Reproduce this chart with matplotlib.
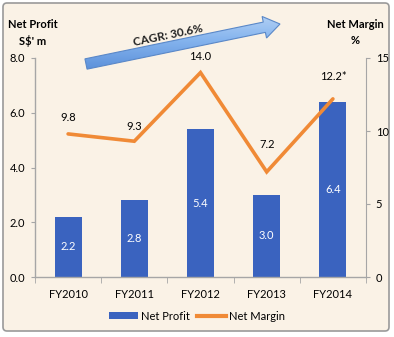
import numpy as np
import matplotlib
matplotlib.use("Agg")
import matplotlib.pyplot as plt
from matplotlib.patches import FancyBboxPatch, FancyArrow, Rectangle
from matplotlib.lines import Line2D

# ---- data ----
categories = ["FY2010", "FY2011", "FY2012", "FY2013", "FY2014"]
net_profit = [2.2, 2.8, 5.4, 3.0, 6.4]
net_margin = [9.8, 9.3, 14.0, 7.2, 12.2]
margin_labels = ["9.8", "9.3", "14.0", "7.2", "12.2*"]
left_ticks = [0.0, 2.0, 4.0, 6.0, 8.0]
right_ticks = [0, 5, 10, 15]
cagr_text = "CAGR: 30.6%"

# ---- style ----
FONT = ["Lato", "DejaVu Sans"]
plt.rcParams["font.family"] = FONT
BAR_C = "#3A63BF"
LINE_C = "#F08A36"
BG = "#FAF2E6"
GRID_C = "#A6A6A6"
FS = 8
label_offsets_px = [16, 15, 16, 27, 22]

W, H = 394, 337
fig = plt.figure(figsize=(W / 100, H / 100), dpi=100, facecolor="white")

# background overlay (pixel coords, y downward)
bg = fig.add_axes([0, 0, 1, 1], zorder=0)
bg.set_xlim(0, W)
bg.set_ylim(H, 0)
bg.axis("off")
bg.add_patch(FancyBboxPatch((3, 3), 386, 328, boxstyle="round,pad=0,rounding_size=4",
                            facecolor=BG, edgecolor="#9A9A9A", linewidth=1.2))

# gradient arrow
tail = np.array([86.0, 64.0])
tip = np.array([280.0, 24.0])
d = tip - tail
arrow = FancyArrow(tail[0], tail[1], d[0], d[1], width=10.5, head_width=22, head_length=16,
                   length_includes_head=True, facecolor="none", edgecolor="#5A88C8",
                   linewidth=0.8, zorder=3)
bg.add_patch(arrow)
grad = np.linspace(0, 1, 256).reshape(-1, 1)
cmap = matplotlib.colors.LinearSegmentedColormap.from_list("g", ["#BBD6F6", "#85B4EE", "#5B90DA"])
im = bg.imshow(grad, extent=(80, 300, 70, 10), cmap=cmap, aspect="auto", zorder=2)
im.set_clip_path(arrow)
bg.set_xlim(0, W)
bg.set_ylim(H, 0)
ang = np.degrees(np.arctan2(-d[1], d[0]))
bg.text(168, 35, cagr_text, rotation=ang, ha="center", va="center",
        fontsize=8.5, fontweight="bold", color="#222222", rotation_mode="anchor")

# axis titles
bg.text(33, 25, "Net Profit", ha="center", va="center", fontsize=FS, fontweight="bold")
bg.text(33, 41, "S$' m", ha="center", va="center", fontsize=FS, fontweight="bold")
bg.text(355, 25, "Net Margin", ha="center", va="center", fontsize=FS, fontweight="bold")
bg.text(355, 40, "%", ha="center", va="center", fontsize=FS, fontweight="bold")

# main axes
left, right, top, bottom = 35, 366, 58, 277
ax = fig.add_axes([left / W, (H - bottom) / H, (right - left) / W, (bottom - top) / H], zorder=1)
ax.patch.set_visible(False)
x = np.arange(len(categories))
ax.bar(x, net_profit, width=0.41, color=BAR_C, zorder=2)
ax.set_ylim(0, 8)
ax.set_xlim(-0.5, len(categories) - 0.5)
ax.set_yticks(left_ticks)
ax.set_yticklabels([f"{v:.1f}" for v in left_ticks])
ax.set_xticks(x)
ax.set_xticklabels(categories)
ax.set_xticks(np.arange(-0.5, len(categories), 1.0), minor=True)
ax.tick_params(axis="x", which="major", length=0, labelsize=FS, pad=9)
ax.tick_params(axis="x", which="minor", length=4, color=GRID_C, direction="out")
ax.tick_params(axis="y", length=3, color=GRID_C, labelsize=FS, pad=4)
for s in ["top", "right"]:
    ax.spines[s].set_visible(False)
for s in ["left", "bottom"]:
    ax.spines[s].set_color(GRID_C)
    ax.spines[s].set_linewidth(1.0)

for xi, v in zip(x, net_profit):
    ax.text(xi, v / 2, f"{v:.1f}", ha="center", va="center", color="white", fontsize=FS, zorder=3)

ax2 = ax.twinx()
ax2.set_zorder(2)
ax2.patch.set_visible(False)
ax2.plot(x, net_margin, color=LINE_C, linewidth=2.6, solid_capstyle="round", solid_joinstyle="miter")
ax2.set_ylim(0, 15)
ax2.set_yticks(right_ticks)
ax2.tick_params(axis="y", length=3, color=GRID_C, labelsize=FS, pad=4)
for s in ["top", "left", "bottom"]:
    ax2.spines[s].set_visible(False)
ax2.spines["right"].set_color(GRID_C)
for xi, v, lab, off in zip(x, net_margin, margin_labels, label_offsets_px):
    ax2.annotate(lab, (xi, v), xytext=(0, off * 0.72), textcoords="offset points",
                 ha="center", va="center", fontsize=FS)

# legend
handles = [Rectangle((0, 0), 1, 1, facecolor=BAR_C),
           Line2D([0], [0], color=LINE_C, linewidth=3)]
fig.legend(handles, ["Net Profit", "Net Margin"], loc="center", bbox_to_anchor=(0.5, (H - 316) / H),
           ncol=2, frameon=False, fontsize=FS, handlelength=2.6, handleheight=0.6,
           columnspacing=0.6, handletextpad=0.3)

fig.savefig("out.png", dpi=100, facecolor="white")
